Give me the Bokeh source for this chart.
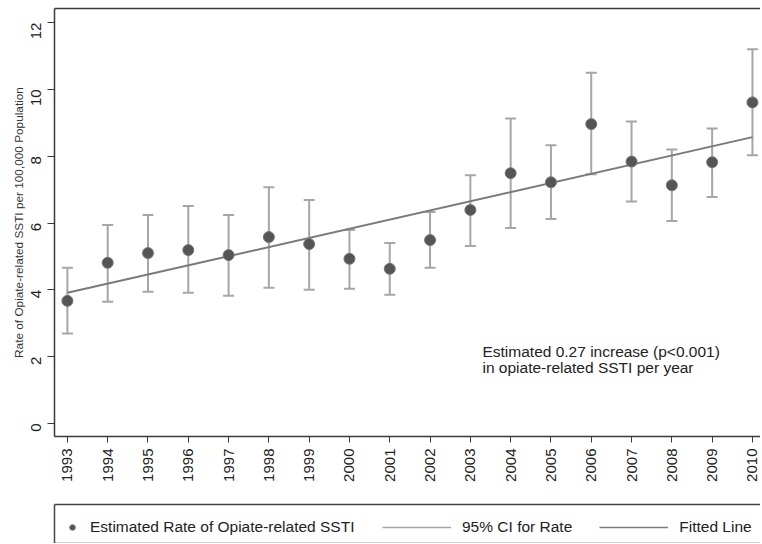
from math import pi
from bokeh.plotting import figure
from bokeh.layouts import column
from bokeh.models import (ColumnDataSource, Range1d, LinearAxis, FixedTicker,
                          Label, Legend, LegendItem)
from bokeh.embed import file_html
from bokeh.resources import INLINE

# ---- data ----
years = list(range(1993, 2011))
rate = [3.67, 4.81, 5.10, 5.19, 5.04, 5.58, 5.37, 4.93, 4.63, 5.49,
        6.39, 7.49, 7.22, 8.96, 7.84, 7.13, 7.82, 9.61]
ci_low = [2.69, 3.64, 3.94, 3.91, 3.82, 4.06, 4.00, 4.03, 3.85, 4.66,
          5.31, 5.85, 6.12, 7.46, 6.64, 6.06, 6.78, 8.03]
ci_high = [4.66, 5.94, 6.24, 6.51, 6.24, 7.07, 6.69, 5.79, 5.40, 6.33,
           7.43, 9.13, 8.33, 10.50, 9.04, 8.20, 8.83, 11.20]
fit_years = [1993, 2010]
fit_values = [3.91, 8.57]
y_ticks = [0, 2, 4, 6, 8, 10, 12]
note_lines = ["Estimated 0.27 increase (p<0.001)",
              "in opiate-related SSTI per year"]
y_title = "Rate of Opiate-related SSTI per 100,000 Population"
legend_labels = ["Estimated Rate of Opiate-related SSTI", "95% CI for Rate", "Fitted Line"]

FONT = "Liberation Sans"
AXIS_COL = "#3a3a3a"
TXT_COL = "#222222"
PT_FILL, PT_LINE = "#555555", "#777777"
CI_COL = "#a6a6a6"
FIT_COL = "#7a7a7a"
W = 760
LEFT = 54

src = ColumnDataSource(dict(year=years, rate=rate, lo=ci_low, hi=ci_high))
fit_src = ColumnDataSource(dict(year=fit_years, val=fit_values))

p = figure(width=W, height=484,
           x_range=Range1d(1992.68, 2010.2), y_range=Range1d(-0.39, 12.42),
           output_backend="svg", toolbar_location=None,
           min_border_left=LEFT, min_border_top=8, min_border_right=0,
           min_border_bottom=0)
p.background_fill_color = "white"
p.border_fill_color = "white"
p.outline_line_color = None
p.xgrid.grid_line_color = None
p.ygrid.grid_line_color = None

# CI bars
p.segment(x0="year", y0="lo", x1="year", y1="hi", source=src,
          line_color=CI_COL, line_width=2)
p.scatter(x="year", y="lo", source=src, marker="dash", size=11,
          line_color=CI_COL, line_width=2)
p.scatter(x="year", y="hi", source=src, marker="dash", size=11,
          line_color=CI_COL, line_width=2)
# fitted line
p.line(x="year", y="val", source=fit_src, line_color=FIT_COL, line_width=2)
# points
p.scatter(x="year", y="rate", source=src, marker="circle", size=11,
          fill_color=PT_FILL, line_color=PT_LINE, line_width=1)

# axes
xa = p.xaxis[0]
xa.ticker = FixedTicker(ticks=years)
xa.major_label_orientation = pi / 2
xa.major_label_text_font = FONT
xa.major_label_text_font_size = "15px"
xa.major_label_text_color = TXT_COL
xa.major_label_standoff = 6
xa.axis_line_color = AXIS_COL
xa.axis_line_width = 1.5
xa.major_tick_line_color = AXIS_COL
xa.major_tick_out = 6
xa.major_tick_in = 0
xa.minor_tick_line_color = None

ya = p.yaxis[0]
ya.ticker = FixedTicker(ticks=y_ticks)
ya.major_label_orientation = pi / 2
ya.major_label_text_font = FONT
ya.major_label_text_font_size = "15px"
ya.major_label_text_color = TXT_COL
ya.major_label_standoff = 11
ya.axis_line_color = AXIS_COL
ya.axis_line_width = 1.5
ya.major_tick_line_color = AXIS_COL
ya.major_tick_out = 7
ya.major_tick_in = 0
ya.minor_tick_line_color = None
ya.axis_label = y_title
ya.axis_label_text_font = FONT
ya.axis_label_text_font_size = "11.8px"
ya.axis_label_text_font_style = "normal"
ya.axis_label_text_color = "#333333"
ya.axis_label_standoff = -2

top = LinearAxis(ticker=FixedTicker(ticks=[]), major_label_text_font_size="0px",
                 major_tick_line_color=None, minor_tick_line_color=None,
                 axis_line_color=AXIS_COL, axis_line_width=1.5)
p.add_layout(top, "above")

# annotation
for i, t in enumerate(note_lines):
    p.add_layout(Label(x=2003.3, y=2.15 - 0.47 * i, text=t,
                       text_font=FONT, text_font_size="15.5px",
                       text_color=TXT_COL, text_baseline="middle"))

# ---- legend strip (separate figure; its glyphs lie outside its ranges) ----
lg = figure(width=W, height=59, x_range=Range1d(0, 1), y_range=Range1d(0, 1),
            x_axis_type=None, y_axis_type=None,
            output_backend="svg", toolbar_location=None,
            min_border_left=LEFT, min_border_right=0, min_border_top=20,
            min_border_bottom=0)
lg.grid.visible = False
lg.outline_line_color = None
lg.background_fill_color = "white"
lg.border_fill_color = "white"
for side in ("above", "below", "left"):
    lg.add_layout(LinearAxis(ticker=FixedTicker(ticks=[]),
                             major_label_text_font_size="0px",
                             major_tick_line_color=None, minor_tick_line_color=None,
                             axis_line_color="#444444", axis_line_width=1.5), side)

l_pt = lg.scatter(x="year", y="rate", source=src, marker="circle", size=10,
                  fill_color=PT_FILL, line_color=PT_LINE, line_width=1)
l_ci = lg.segment(x0="year", y0="lo", x1="year", y1="hi", source=src,
                  line_color=CI_COL, line_width=1.5)
l_fit = lg.line(x="year", y="val", source=fit_src, line_color=FIT_COL, line_width=1.5)


def make_legend(items, loc, glyph_w, standoff, spacing=0):
    leg = Legend(items=items, orientation="horizontal", location=loc)
    leg.label_text_font = FONT
    leg.label_text_font_size = "15.5px"
    leg.label_text_color = TXT_COL
    leg.border_line_color = None
    leg.background_fill_alpha = 0
    leg.glyph_width = glyph_w
    leg.glyph_height = 20
    leg.label_standoff = standoff
    leg.spacing = spacing
    leg.padding = 0
    leg.margin = 0
    return leg


lg.add_layout(make_legend([LegendItem(label=legend_labels[0], renderers=[l_pt])],
                          (11, 6), 14, 11))
lg.add_layout(make_legend([LegendItem(label=legend_labels[1], renderers=[l_ci]),
                           LegendItem(label=legend_labels[2], renderers=[l_fit])],
                          (328, 6), 69, 11, 27))

layout = column(p, lg, spacing=0)
open("out.html", "w").write(file_html(layout, INLINE))
